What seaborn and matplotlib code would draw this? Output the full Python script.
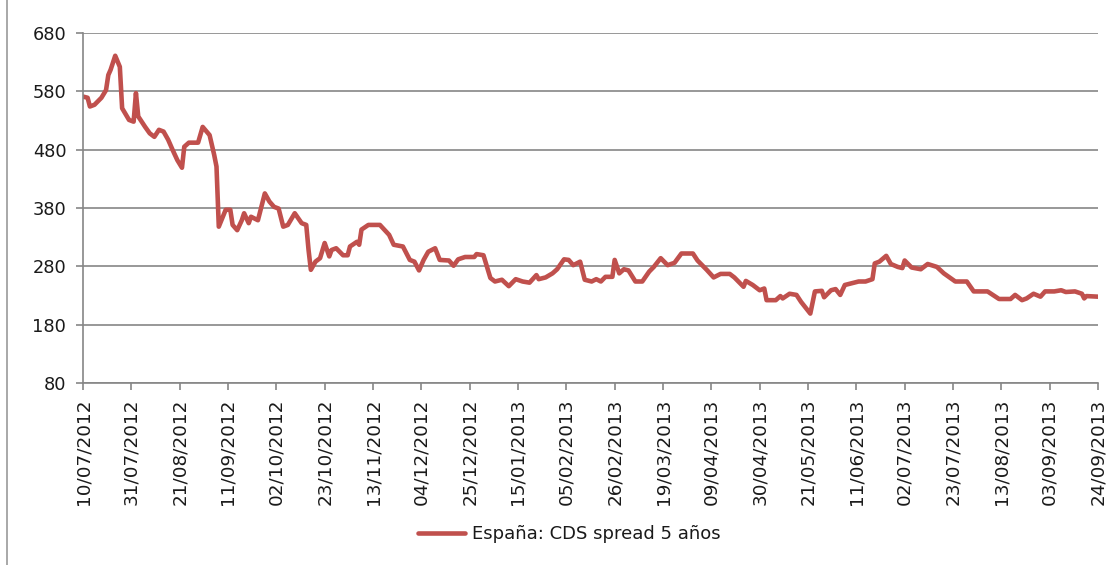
import pandas as pd
import seaborn as sns
import matplotlib.pyplot as plt
import matplotlib.dates as mdates
from matplotlib.lines import Line2D

# CDS spread 5 years, Spain (bp)
fechas = [
    "10/07/2012", "12/07/2012", "13/07/2012", "15/07/2012", "18/07/2012", "20/07/2012",
    "21/07/2012", "22/07/2012", "24/07/2012", "26/07/2012", "27/07/2012", "30/07/2012",
    "01/08/2012", "02/08/2012", "03/08/2012", "06/08/2012", "08/08/2012", "10/08/2012",
    "12/08/2012", "14/08/2012", "16/08/2012", "18/08/2012", "20/08/2012", "22/08/2012",
    "23/08/2012", "25/08/2012", "29/08/2012", "31/08/2012", "03/09/2012", "05/09/2012",
    "06/09/2012", "07/09/2012", "10/09/2012", "12/09/2012", "13/09/2012", "15/09/2012",
    "17/09/2012", "18/09/2012", "20/09/2012", "21/09/2012", "24/09/2012", "27/09/2012",
    "29/09/2012", "01/10/2012", "03/10/2012", "05/10/2012", "07/10/2012", "10/10/2012",
    "13/10/2012", "15/10/2012", "16/10/2012", "17/10/2012", "19/10/2012", "21/10/2012",
    "23/10/2012", "25/10/2012", "26/10/2012", "28/10/2012", "31/10/2012", "02/11/2012",
    "03/11/2012", "06/11/2012", "07/11/2012", "08/11/2012", "11/11/2012", "16/11/2012",
    "20/11/2012", "22/11/2012", "26/11/2012", "29/11/2012", "01/12/2012", "03/12/2012",
    "05/12/2012", "07/12/2012", "10/12/2012", "12/12/2012", "16/12/2012", "18/12/2012",
    "20/12/2012", "23/12/2012", "27/12/2012", "28/12/2012", "31/12/2012", "03/01/2013",
    "05/01/2013", "08/01/2013", "11/01/2013", "14/01/2013", "17/01/2013", "20/01/2013",
    "23/01/2013", "24/01/2013", "27/01/2013", "30/01/2013", "01/02/2013", "04/02/2013",
    "06/02/2013", "08/02/2013", "11/02/2013", "13/02/2013", "16/02/2013", "18/02/2013",
    "20/02/2013", "22/02/2013", "25/02/2013", "26/02/2013", "28/02/2013", "02/03/2013",
    "04/03/2013", "07/03/2013", "10/03/2013", "13/03/2013", "15/03/2013", "18/03/2013",
    "21/03/2013", "24/03/2013", "27/03/2013", "01/04/2013", "03/04/2013", "07/04/2013",
    "10/04/2013", "13/04/2013", "17/04/2013", "19/04/2013", "23/04/2013", "24/04/2013",
    "27/04/2013", "30/04/2013", "02/05/2013", "03/05/2013", "07/05/2013", "09/05/2013",
    "10/05/2013", "13/05/2013", "16/05/2013", "18/05/2013", "22/05/2013", "24/05/2013",
    "27/05/2013", "28/05/2013", "31/05/2013", "02/06/2013", "04/06/2013", "06/06/2013",
    "09/06/2013", "12/06/2013", "15/06/2013", "18/06/2013", "19/06/2013", "21/06/2013",
    "24/06/2013", "26/06/2013", "29/06/2013", "01/07/2013", "02/07/2013", "05/07/2013",
    "09/07/2013", "12/07/2013", "16/07/2013", "19/07/2013", "24/07/2013", "29/07/2013",
    "01/08/2013", "07/08/2013", "12/08/2013", "17/08/2013", "19/08/2013", "22/08/2013",
    "24/08/2013", "27/08/2013", "30/08/2013", "01/09/2013", "05/09/2013", "08/09/2013",
    "10/09/2013", "14/09/2013", "17/09/2013", "18/09/2013", "19/09/2013", "24/09/2013",
]
cds = [
    571, 569, 554, 557, 569, 582,
    608, 617, 641, 622, 551, 531,
    528, 577, 537, 519, 508, 502,
    514, 511, 497, 479, 462, 449,
    485, 492, 492, 519, 505, 471,
    451, 348, 377, 377, 351, 342,
    359, 371, 354, 365, 359, 405,
    391, 382, 379, 348, 351, 371,
    354, 351, 308, 274, 288, 294,
    320, 297, 308, 311, 299, 299,
    314, 322, 317, 343, 351, 351,
    334, 317, 314, 291, 288, 273,
    291, 305, 311, 291, 290, 281,
    292, 296, 296, 301, 299, 260,
    254, 257, 246, 258, 254, 252,
    265, 258, 261, 268, 275, 292,
    291, 282, 288, 257, 254, 258,
    254, 262, 262, 291, 268, 275,
    273, 254, 254, 271, 279, 294,
    282, 286, 302, 302, 290, 274,
    261, 267, 267, 261, 245, 255,
    248, 239, 242, 222, 222, 229,
    225, 233, 231, 219, 199, 237,
    238, 227, 239, 241, 231, 248,
    251, 254, 254, 258, 285, 288,
    298, 284, 279, 277, 290, 278,
    275, 284, 279, 268, 254, 254,
    237, 237, 224, 224, 231, 222,
    225, 233, 228, 237, 237, 239,
    236, 237, 233, 225, 229, 228,
]
serie = "España: CDS spread 5 años"
y_ticks = [80, 180, 280, 380, 480, 580, 680]

df = pd.DataFrame({"fecha": pd.to_datetime(fechas, dayfirst=True), "cds": cds})

sns.set_style("white")
plt.rcParams["font.family"] = ["DejaVu Sans"]
color_linea = "#C0504D"
gris = "#868686"

fig = plt.figure(figsize=(11.16, 5.65), dpi=100)
ax = fig.add_axes([83 / 1116, 1 - 383 / 565, (1098 - 83) / 1116, (383 - 33) / 565])

sns.lineplot(data=df, x="fecha", y="cds", ax=ax, color=color_linea, linewidth=3.3, legend=False)

# axes, grid, ticks in Excel style
ax.set_ylim(80, 680)
ax.set_yticks(y_ticks)
ax.set_xlim(df["fecha"].iloc[0], df["fecha"].iloc[-1])
x_ticks = pd.date_range(df["fecha"].iloc[0], df["fecha"].iloc[-1], freq="21D")
ax.set_xticks(x_ticks)
ax.xaxis.set_major_formatter(mdates.DateFormatter("%d/%m/%Y"))
ax.grid(axis="y", color=gris, linewidth=1.2)
ax.set_axisbelow(True)
for s in ["top", "right"]:
    ax.spines[s].set_visible(False)
for s in ["left", "bottom"]:
    ax.spines[s].set_color(gris)
    ax.spines[s].set_linewidth(1.2)
ax.tick_params(axis="x", rotation=90, labelsize=13.2, length=5, width=1.2, color=gris,
               pad=6, bottom=True, labelcolor="#1a1a1a")
ax.tick_params(axis="y", labelsize=12.8, length=5, width=1.2, color=gris,
               pad=7, left=True, labelcolor="#1a1a1a")
ax.set_xlabel("")
ax.set_ylabel("")

# legend below the plot
handle = Line2D([], [], color=color_linea, linewidth=3.3)
fig.legend([handle], [serie], loc="center", bbox_to_anchor=(0.51, 1 - 534 / 565),
           frameon=False, fontsize=13, handlelength=2.6, handletextpad=0.4,
           labelcolor="#1a1a1a")

# chart area border on the left
fig.add_artist(Line2D([7 / 1116, 7 / 1116], [0, 1], color="#9a9a9a", linewidth=1.2))

plt.savefig("out.png", dpi=100)
plt.close()
